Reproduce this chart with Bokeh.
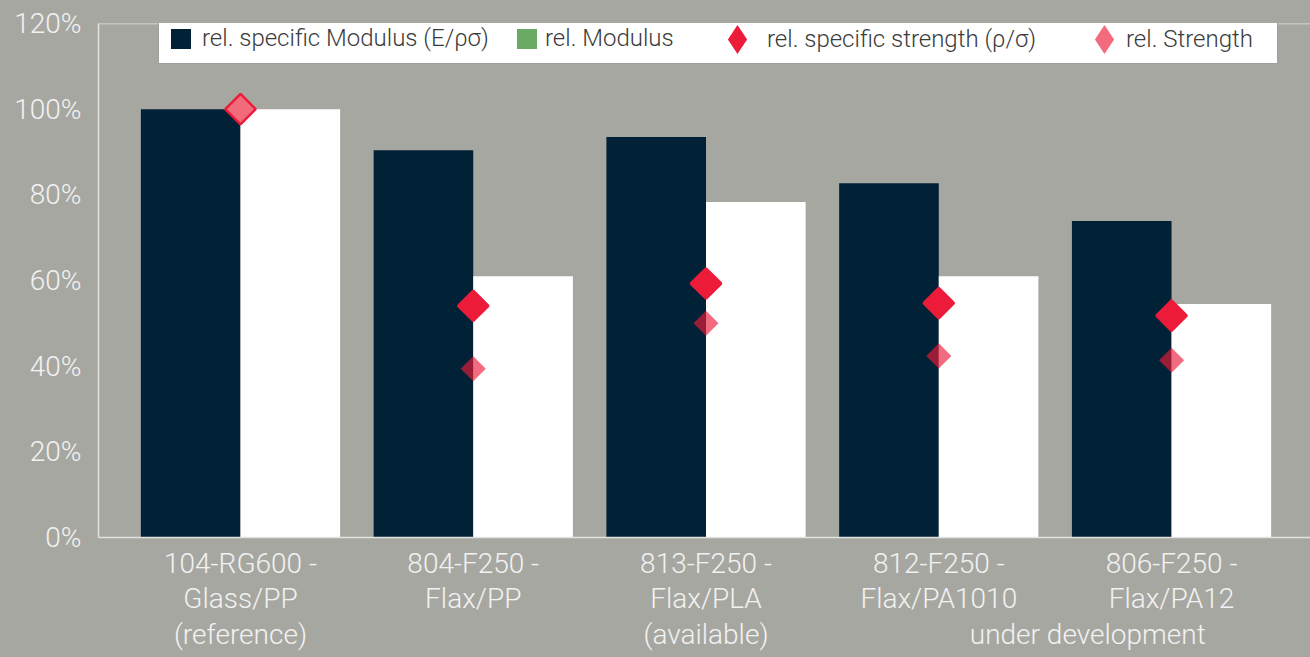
import numpy as np
from bokeh.plotting import figure
from bokeh.models import (ColumnDataSource, Range1d, FixedTicker, PrintfTickFormatter,
                          Legend, LegendItem, Span)
from bokeh.transform import dodge
from bokeh.embed import file_html
from bokeh.resources import INLINE

# ---------------- data ----------------
products = [
    "104-RG600 -\nGlass/PP\n(reference)",
    "804-F250 -\nFlax/PP",
    "813-F250 -\nFlax/PLA\n(available)",
    "812-F250 -\nFlax/PA1010",
    "806-F250 -\nFlax/PA12",
]
rel_specific_modulus = [100, 90.4, 93.5, 82.7, 73.9]
rel_modulus = [100, 61.0, 78.3, 61.0, 54.5]
rel_specific_strength = [100, 54.1, 59.3, 54.7, 51.8]
rel_strength = [100, 39.4, 50.0, 42.4, 41.4]
y_ticks = [0, 20, 40, 60, 80, 100, 120]
note_text = "under development"
note_pos = 3.64          # between the last two products
legend_labels = ["rel. specific Modulus (E/ρσ)", "rel. Modulus",
                 "rel. specific strength (ρ/σ)", "rel. Strength"]

# ---------------- styles ----------------
BG = "#a7a7a1"
NAVY = "#012136"
RED = "#ed1b3a"
PINK = "#f26b7b"
GREEN = "#6aaa64"
LIGHT = "#f2f2f2"
AXIS = "#e2e2e2"
FONT = "Roboto Light"
big_fill = [PINK] + [RED] * (len(products) - 1)

xs = np.arange(len(products))
src = ColumnDataSource(dict(x=xs, spec_mod=rel_specific_modulus, mod=rel_modulus,
                            spec_str=rel_specific_strength, strength=rel_strength,
                            big_fill=big_fill))

p = figure(width=1310, height=657, output_backend="svg", toolbar_location=None,
           x_range=Range1d(-0.61, 4.597), y_range=Range1d(0, 120),
           min_border_left=98, min_border_right=0, min_border_top=23, min_border_bottom=120)
p.background_fill_color = BG
p.border_fill_color = BG
p.outline_line_color = None
p.grid.visible = False

bw = 0.428
r_dark = p.vbar(x=dodge("x", -bw / 2), top="spec_mod", width=bw, bottom=0, source=src,
                fill_color=NAVY, line_color=None)
r_white = p.vbar(x=dodge("x", bw / 2), top="mod", width=bw, bottom=0, source=src,
                 fill_color="white", line_color=None)
# invisible renderers that only provide legend swatches
r_green = p.vbar(x="x", top="mod", width=0, bottom=0, source=src,
                 fill_color=GREEN, line_color=None)
r_blank = p.vbar(x="x", top="mod", width=0, bottom=0, source=src,
                 fill_alpha=0, line_color=None)
r_leg_big = p.scatter(x="x", y="spec_str", source=src, marker="diamond", size=0,
                      fill_color=RED, line_color=None)
r_leg_small = p.scatter(x="x", y="strength", source=src, marker="diamond", size=0,
                        fill_color=RED, fill_alpha=0.65, line_color=None)

r_small = p.scatter(x="x", y="strength", source=src, marker="square", angle=np.pi / 4,
                    size=17.7, fill_color=RED, fill_alpha=0.65, line_color=None)
r_big = p.scatter(x="x", y="spec_str", source=src, marker="square", angle=np.pi / 4,
                  size=21.5, fill_color="big_fill", line_color=RED, line_width=2.5)

p.add_layout(Span(location=120, dimension="width", line_color=AXIS, line_width=1.5))

# axes
tick_pos = [float(v) for v in xs] + [note_pos]
overrides = {float(i): products[i] for i in xs}
overrides[note_pos] = "\n\n" + note_text

xa = p.xaxis[0]
xa.ticker = FixedTicker(ticks=tick_pos)
xa.major_label_overrides = overrides
xa.axis_line_color = AXIS
xa.axis_line_width = 1.5
xa.major_tick_line_color = None
xa.minor_tick_line_color = None
xa.major_label_text_font = FONT
xa.major_label_text_font_size = "28px"
xa.major_label_text_color = LIGHT
xa.major_label_text_line_height = 1.09
xa.major_label_standoff = 3

ya = p.yaxis[0]
ya.ticker = FixedTicker(ticks=y_ticks)
ya.formatter = PrintfTickFormatter(format="%d%%")
ya.axis_line_color = AXIS
ya.axis_line_width = 1.5
ya.major_tick_line_color = None
ya.minor_tick_line_color = None
ya.major_label_text_font = FONT
ya.major_label_text_font_size = "28px"
ya.major_label_text_color = LIGHT
ya.major_label_standoff = 11


def add_legend(items, vx, vy, gw, gh, lh, standoff, **kw):
    lg = Legend(items=items, location=(vx, vy), orientation="horizontal",
                glyph_width=gw, glyph_height=gh, label_height=lh, label_standoff=standoff,
                padding=0, spacing=0, margin=0,
                border_line_color=None, background_fill_alpha=0,
                label_text_font=FONT, label_text_font_size="24px",
                label_text_color="#3b3b3b")
    lg.update(**kw)
    p.add_layout(lg, "center")
    return lg


# legend frame (box only)
add_legend([LegendItem(label=" ", renderers=[r_blank])], 60, 473, 0, 56, 56, 0,
           label_width=1118, border_line_color="#404040", border_line_width=1.5,
           background_fill_color="white", background_fill_alpha=1.0)
# square entries
add_legend([LegendItem(label=legend_labels[0], renderers=[r_dark], index=0)],
           70, 485, 25, 25, 28, 9)
add_legend([LegendItem(label=legend_labels[1], renderers=[r_green], index=0)],
           416, 485, 25, 25, 28, 6)
# diamond entries: swatch and label placed separately
add_legend([LegendItem(label=" ", renderers=[r_leg_big], index=1)],
           603, 462, 72, 72, 72, 0)
add_legend([LegendItem(label=" ", renderers=[r_leg_small], index=1)],
           970, 462, 72, 72, 72, 0)
add_legend([LegendItem(label=legend_labels[2], renderers=[r_blank], index=0)],
           669, 484, 0, 28, 28, 0)
add_legend([LegendItem(label=legend_labels[3], renderers=[r_blank], index=0)],
           1028, 484, 0, 28, 28, 0)

html = file_html(p, INLINE)
html = html.replace("<body>", '<body style="background:%s">' % BG)
open("out.html", "w").write(html)
